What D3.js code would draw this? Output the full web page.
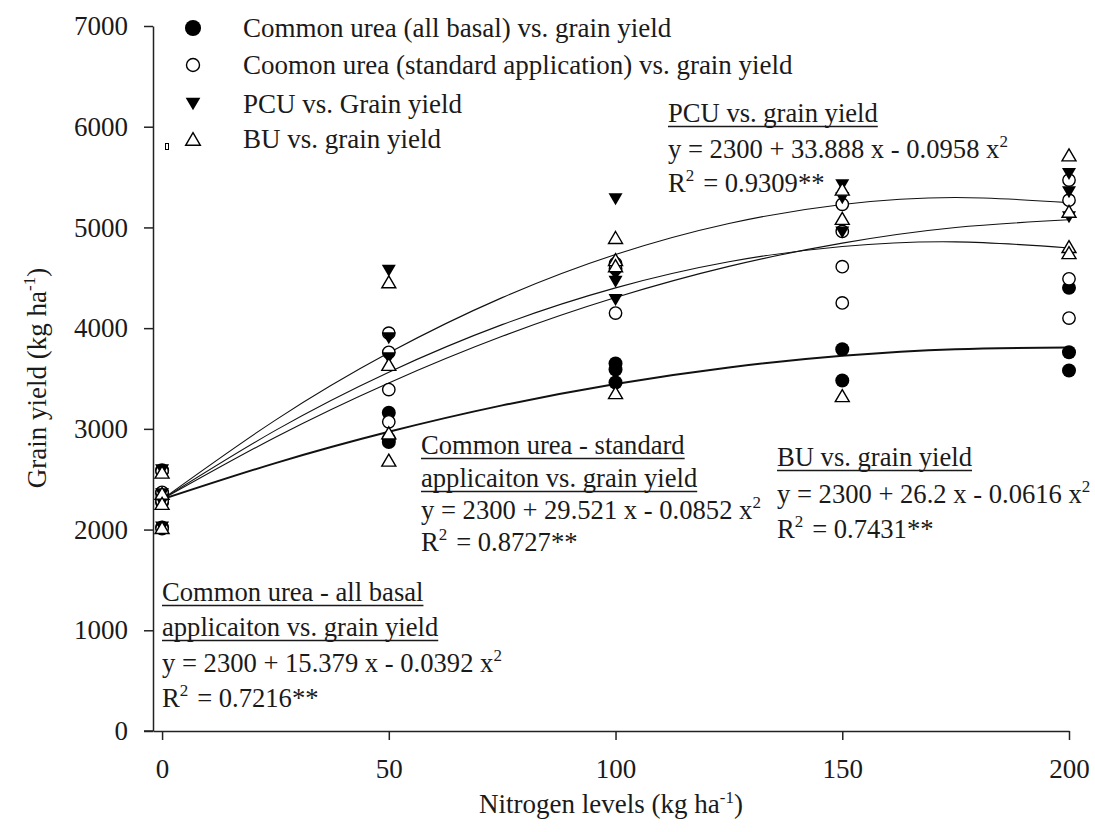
<!DOCTYPE html>
<html>
<head>
<meta charset="utf-8">
<script src="https://cdn.jsdelivr.net/npm/d3@7/dist/d3.min.js"></script>
<style>
  body { margin: 0; background: #fff; }
  text { font-family: "Liberation Serif", "Times New Roman", serif; fill: #1a1a1a; }
</style>
</head>
<body>
<div id="chart"></div>
<script>
// Nitrogen levels (kg ha-1)
const nLevels = [0, 50, 100, 150, 200];

// Grain yield replicates per N level (kg ha-1)
const basalYield = [[2590, 2360, 2270, 2020], [3160, 2900, 2870], [3650, 3590, 3460], [3790, 3480], [4400, 3760, 3580]];
const standardYield = [[2580, 2370, 2280, 2010], [3950, 3760, 3390, 3070], [4640, 4590, 4150], [5230, 4960, 4610, 4250], [5470, 5270, 4490, 4100]];
const pcuYield = [[2590, 2350, 2270, 2020], [4570, 3900, 3700], [5280, 4530, 4460, 4280], [5420, 5290, 4950], [5530, 5350, 5100]];
const buYield = [[2570, 2360, 2260, 2020], [4460, 3640, 2960, 2690], [4900, 4680, 4620, 3360], [5380, 5090, 3330], [5720, 5160, 4810, 4750]];

// Fitted curves, read every 25 kg N
const fitN = [0, 25, 50, 75, 100, 125, 150, 175, 200];
const basalFit = [2300, 2660, 2971, 3233, 3446, 3610, 3725, 3791, 3808];
const standardFit = [2300, 2985, 3563, 4035, 4400, 4659, 4811, 4857, 4796];
const pcuFit = [2300, 3087, 3755, 4303, 4731, 5039, 5228, 5297, 5246];
const buFit = [2300, 2917, 3456, 3919, 4304, 4613, 4844, 4999, 5076];

const legendLabels = [
  "Common urea (all basal) vs. grain yield",
  "Coomon urea (standard application) vs. grain yield",
  "PCU vs. Grain yield",
  "BU vs. grain yield"
];

const xTicks = [0, 50, 100, 150, 200];
const yTicks = [0, 1000, 2000, 3000, 4000, 5000, 6000, 7000];

// annotation texts: [text, superscript] segments per line
const pcuNote = [[["PCU vs. grain yield"]], [["y = 2300 + 33.888 x - 0.0958 x"], ["2", 1]], [["R"], ["2", 1], [" = 0.9309**"]]];
const standardNote = [[["Common urea - standard"]], [["applicaiton vs. grain yield"]], [["y = 2300 + 29.521 x - 0.0852 x"], ["2", 1]], [["R"], ["2", 1], [" = 0.8727**"]]];
const buNote = [[["BU vs. grain yield"]], [["y = 2300 + 26.2 x - 0.0616 x"], ["2", 1]], [["R"], ["2", 1], [" = 0.7431**"]]];
const basalNote = [[["Common urea - all basal"]], [["applicaiton vs. grain yield"]], [["y = 2300 + 15.379 x - 0.0392 x"], ["2", 1]], [["R"], ["2", 1], [" = 0.7216**"]]];

const width = 1095, height = 832;
const serif = "'Liberation Serif', 'Times New Roman', serif";
const svg = d3.select("#chart").append("svg")
  .attr("width", width)
  .attr("height", height);

const x = d3.scaleLinear().domain([-2, 200]).range([153, 1069]);
const y = d3.scaleLinear().domain([0, 7000]).range([731, 26]);

// axes
const yAxis = svg.append("g")
  .attr("transform", "translate(153,0)")
  .call(d3.axisLeft(y).tickValues(yTicks).tickFormat(d3.format("d"))
    .tickSize(9).tickSizeOuter(0).tickPadding(16));
const xAxis = svg.append("g")
  .attr("transform", "translate(0,731)")
  .call(d3.axisBottom(x).tickValues(xTicks).tickFormat(d3.format("d"))
    .tickSize(9).tickSizeOuter(0).tickPadding(19));

[xAxis, yAxis].forEach(g => {
  g.attr("font-family", serif).attr("font-size", 27);
  g.select(".domain").attr("stroke", "#222").attr("stroke-width", 1.5);
  g.selectAll(".tick line").attr("stroke", "#222").attr("stroke-width", 1.5);
  g.selectAll(".tick text").attr("fill", "#1a1a1a");
});
// y-axis 0 tick meets the x-axis line
svg.append("line").attr("x1", 144).attr("x2", 153).attr("y1", 731).attr("y2", 731)
  .attr("stroke", "#222").attr("stroke-width", 1.5);

// fitted curves
const line = d3.line().x((d, i) => x(fitN[i])).y(d => y(d)).curve(d3.curveNatural);
const fits = [
  { vals: basalFit, w: 2 },
  { vals: standardFit, w: 1.1 },
  { vals: pcuFit, w: 1.1 },
  { vals: buFit, w: 1.1 }
];
svg.append("g").selectAll("path")
  .data(fits)
  .join("path")
  .attr("d", d => line(d.vals))
  .attr("fill", "none")
  .attr("stroke", "#111")
  .attr("stroke-width", d => d.w);

// markers
const downTri = "M-7,-6L7,-6L0,6Z";
const upTri = "M0,-6L7,6L-7,6Z";
function drawMarker(g, kind, scale) {
  const k = scale || 1;
  if (kind === "filledCircle") {
    g.append("circle").attr("r", 7 * k).attr("fill", "#000");
  } else if (kind === "openCircle") {
    g.append("circle").attr("r", 6.2 * k).attr("fill", "#fff").attr("stroke", "#000").attr("stroke-width", 1.4);
  } else if (kind === "downTri") {
    g.append("path").attr("d", downTri).attr("transform", `scale(${k})`).attr("fill", "#000");
  } else {
    g.append("path").attr("d", upTri).attr("transform", `scale(${k})`).attr("fill", "#fff")
      .attr("stroke", "#000").attr("stroke-width", 1.4 / k);
  }
}

const series = [
  { vals: basalYield, kind: "filledCircle" },
  { vals: standardYield, kind: "openCircle" },
  { vals: pcuYield, kind: "downTri" },
  { vals: buYield, kind: "upTri" }
];
series.forEach(s => {
  const pts = [];
  s.vals.forEach((reps, i) => reps.forEach(v => pts.push([nLevels[i], v])));
  svg.append("g").selectAll("g")
    .data(pts)
    .join("g")
    .attr("transform", d => `translate(${x(d[0])},${y(d[1])})`)
    .each(function () { drawMarker(d3.select(this), s.kind); });
});

// legend
const legend = svg.append("g");
const legendY = [28, 65, 104, 139];
legendLabels.forEach((label, i) => {
  const g = legend.append("g").attr("transform", `translate(193,${legendY[i]})`);
  drawMarker(g, series[i].kind, i === 0 ? 1.15 : 1.05);
  legend.append("text")
    .attr("x", 243)
    .attr("y", legendY[i] + 9)
    .attr("font-size", 27)
    .text(label);
});
// small stray box near the legend
svg.append("rect").attr("x", 165.5).attr("y", 143.5).attr("width", 3).attr("height", 6)
  .attr("fill", "none").attr("stroke", "#000").attr("stroke-width", 1);

// annotations
function note(lines, x0, baselines, underlined) {
  lines.forEach((segs, i) => {
    const t = svg.append("text")
      .attr("x", x0)
      .attr("y", baselines[i])
      .attr("font-size", 26.6);
    segs.forEach(seg => {
      if (seg[1]) {
        t.append("tspan").attr("dy", -11).attr("font-size", 17).text(seg[0]);
        t.append("tspan").attr("dy", 11).text("\u200a");
      } else {
        t.append("tspan").text(seg[0]);
      }
    });
    if (i < underlined) {
      const w = t.node().getComputedTextLength();
      svg.append("line")
        .attr("x1", x0).attr("x2", x0 + w)
        .attr("y1", baselines[i] + 4.5).attr("y2", baselines[i] + 4.5)
        .attr("stroke", "#1a1a1a").attr("stroke-width", 1.3);
    }
  });
}
note(pcuNote, 668, [122, 158, 192], 1);
note(standardNote, 421, [454, 487, 519, 551], 2);
note(buNote, 777, [466, 503, 538], 1);
note(basalNote, 162, [601, 636, 672, 707], 2);

// axis titles
const yTitle = svg.append("text")
  .attr("transform", "translate(46,378) rotate(-90)")
  .attr("text-anchor", "middle")
  .attr("font-size", 27);
yTitle.append("tspan").text("Grain yield (kg ha");
yTitle.append("tspan").attr("dy", -11).attr("font-size", 17).text("-1");
yTitle.append("tspan").attr("dy", 11).text(")");

const xTitle = svg.append("text")
  .attr("x", 611)
  .attr("y", 813)
  .attr("text-anchor", "middle")
  .attr("font-size", 27);
xTitle.append("tspan").text("Nitrogen levels (kg ha");
xTitle.append("tspan").attr("dy", -10).attr("font-size", 17).text("-1");
xTitle.append("tspan").attr("dy", 10).text(")");
</script>
</body>
</html>
